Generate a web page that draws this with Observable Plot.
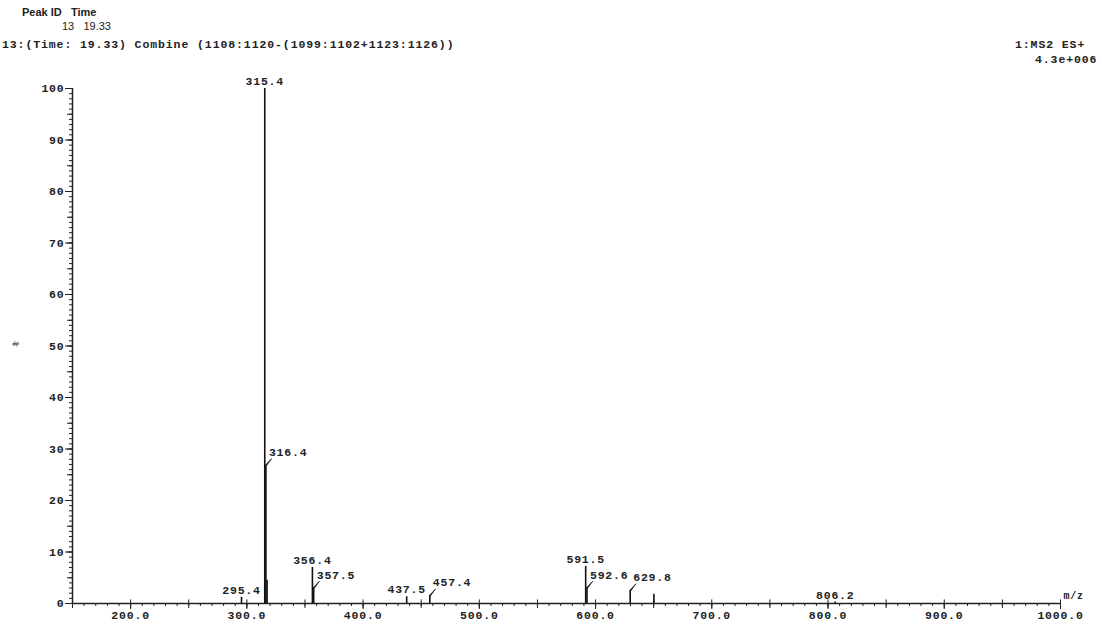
<!DOCTYPE html>
<html>
<head>
<meta charset="utf-8">
<script src="https://cdn.jsdelivr.net/npm/d3@7"></script>
<script src="https://cdn.jsdelivr.net/npm/@observablehq/plot@0.6"></script>
<style>
  html, body { margin: 0; padding: 0; background: #fff; }
  #wrap { position: relative; width: 1102px; height: 624px; overflow: hidden; }
  #wrap svg { position: absolute; left: 0; top: 0; }
  .hdr { position: absolute; color: #222; white-space: pre; }
  .sans { font-family: "Liberation Sans", Arial, sans-serif; font-size: 11px; }
  .mono { font-family: "Liberation Mono", "DejaVu Sans Mono", monospace; font-size: 11.5px; font-weight: bold; letter-spacing: 0.9px; }
</style>
</head>
<body>
<div id="wrap">
  <div class="hdr sans" style="left:22px; top:6px; font-weight:bold;">Peak ID   Time</div>
  <div class="hdr sans" style="left:62px; top:20px;">13   19.33</div>
  <div class="hdr mono" style="left:2px; top:38px;">13:(Time: 19.33) Combine (1108:1120-(1099:1102+1123:1126))</div>
  <div class="hdr mono" style="left:1015px; top:38px;">1:MS2 ES+</div>
  <div class="hdr mono" style="left:1035px; top:53px;">4.3e+006</div>
</div>
<script>
// Peak list (m/z, relative intensity %)
const peakMz        = [295.4, 315.4, 316.4, 317.4, 356.4, 357.5, 437.5, 457.4, 591.5, 592.6, 629.8, 650.2, 806.2];
const peakIntensity = [1.2,   100,   26.8,  4.5,   7.0,   3.0,   1.3,   1.5,   7.2,   3.0,   2.5,   1.8,   0.3];
// Peaks that carry a label, and which of those use a leader line
const labelledMz    = [295.4, 315.4, 316.4, 356.4, 357.5, 437.5, 457.4, 591.5, 592.6, 629.8, 806.2];
const leaderMz      = [316.4, 357.5, 457.4, 592.6, 629.8];
// Axis ticks
const xTickLabels   = [200, 300, 400, 500, 600, 700, 800, 900, 1000];
const yTickLabels   = [0, 10, 20, 30, 40, 50, 60, 70, 80, 90, 100];

const peaks = peakMz.map((mz, i) => ({mz, i: peakIntensity[i]}));
const labelled = peaks.filter(d => labelledMz.includes(d.mz));
const centred = labelled.filter(d => !leaderMz.includes(d.mz));
const leadered = labelled.filter(d => leaderMz.includes(d.mz));

const mono = "'Liberation Mono', 'DejaVu Sans Mono', monospace";
const ink = "#222";

const chart = Plot.plot({
  width: 1102,
  height: 624,
  marginLeft: 72,
  marginRight: 42,
  marginTop: 88,
  marginBottom: 21,
  style: {fontFamily: mono, fontSize: "11.5px", fontWeight: "bold", color: ink, background: "transparent", letterSpacing: "0.8px"},
  x: {type: "linear", domain: [150, 1000]},
  y: {type: "linear", domain: [0, 100]},
  marks: [
    // minor / medium / major y ticks
    Plot.axisY({ticks: d3.range(0, 101, 1), tickSize: 3, tickFormat: () => "", label: null, stroke: ink}),
    Plot.axisY({ticks: d3.range(0, 101, 5), tickSize: 5, tickFormat: () => "", label: null, stroke: ink}),
    Plot.axisY({ticks: yTickLabels, tickSize: 7, tickPadding: 1, tickFormat: d3.format("d"), label: null, stroke: ink}),
    // x ticks
    Plot.axisX({ticks: d3.range(150, 1001, 10), tickSize: 3, tickFormat: () => "", label: null, stroke: ink}),
    Plot.axisX({ticks: d3.range(150, 1001, 50), tickSize: 5, tickFormat: () => "", label: null, stroke: ink}),
    Plot.axisX({ticks: xTickLabels, tickSize: 6, tickPadding: 1, tickFormat: d3.format(".1f"), label: null, stroke: ink}),
    Plot.ruleX(d3.range(150, 1001, 50), {x: d => d, y1: 0, y2: 0.7, stroke: ink, strokeWidth: 1}),
    // axis lines
    Plot.ruleX([150], {stroke: ink, strokeWidth: 1.5}),
    Plot.ruleY([0], {stroke: ink, strokeWidth: 1.5}),
    // peaks (sticks)
    Plot.ruleX(peaks, {x: "mz", y1: 0, y2: "i", stroke: "#111", strokeWidth: 1.6}),
    // labels directly above peaks
    Plot.text(centred, {x: "mz", y: "i", text: d => d.mz.toFixed(1), dy: -7, fill: ink}),
    // leader lines + labels to the right
    Plot.vector(leadered, {x: "mz", y: "i", length: 9, rotate: 40, anchor: "start", shape: "spike", r: 0.6, fill: "#111", stroke: "#111", strokeWidth: 0.6}),
    Plot.text(leadered, {x: "mz", y: "i", text: d => d.mz.toFixed(1), textAnchor: "start", dx: 3, dy: -13, fill: ink}),
    // axis annotations
    Plot.text(["m/z"], {frameAnchor: "bottom-right", text: d => d, textAnchor: "start", dx: 3, dy: -5, fill: ink, fontSize: 10}),
    Plot.text(["%"], {frameAnchor: "left", text: d => d, dx: -58, fill: ink, fontSize: 8, rotate: -60})
  ]
});
document.getElementById("wrap").prepend(chart);
</script>
</body>
</html>
